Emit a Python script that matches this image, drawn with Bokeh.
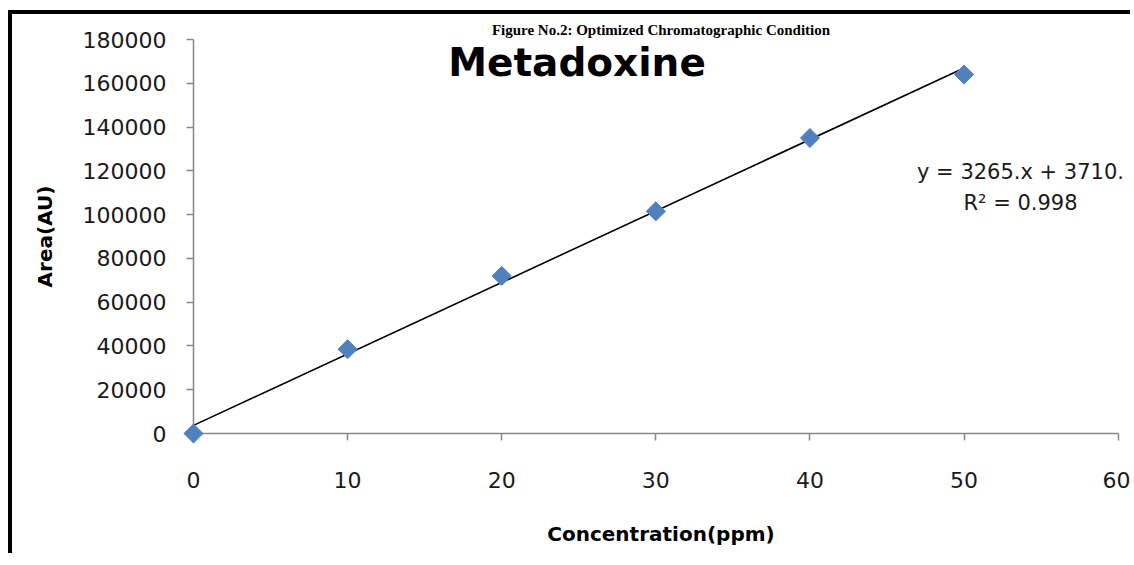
import math
from bokeh.plotting import figure
from bokeh.models import Range1d, FixedTicker, BasicTickFormatter, Label, Title
from bokeh.embed import file_html
from bokeh.resources import INLINE

# ---- data ----
concentration = [0, 10, 20, 30, 40, 50]
area = [0, 38500, 72000, 101500, 135000, 164000]
x_ticks = [0, 10, 20, 30, 40, 50, 60]
y_ticks = [0, 20000, 40000, 60000, 80000, 100000, 120000, 140000, 160000, 180000]
trend_slope = 3265.0
trend_intercept = 3710.0
chart_title = "Metadoxine"
figure_caption = "Figure No.2: Optimized Chromatographic Condition"
eq_line1 = "y = 3265.x + 3710."
eq_line2 = "R\u00b2 = 0.998"
x_label = "Concentration(ppm)"
y_label = "Area(AU)"

OX, OY = 12, 14          # page offset of the canvas (css margin + border)
W, H = 1122, 543
FL, FR, FT, FB = 193 - OX, 1128 - OX, 39 - OY, 433 - OY  # frame edges in canvas px
X_END = 60.67            # frame extends a little past the last tick (axis bounded at 60)

p = figure(width=W, height=H,
           x_range=Range1d(x_ticks[0], X_END), y_range=Range1d(y_ticks[0], y_ticks[-1]),
           output_backend="svg", toolbar_location=None,
           min_border_left=FL, min_border_right=W - FR,
           min_border_top=FT, min_border_bottom=H - FB)
p.styles = {"border-top": "4px solid black", "border-left": "4px solid black",
            "margin-top": "10px", "margin-left": "8px"}
p.outline_line_color = None
p.grid.visible = False
p.background_fill_color = "white"
p.border_fill_color = "white"

cap = Title(text=figure_caption, align="center", vertical_align="top",
            text_font="Liberation Serif", text_font_style="bold",
            text_font_size="15px", text_color="#000000", standoff=0)
p.add_layout(cap, "above")

axis_color = "#878787"
for ax in (p.xaxis[0], p.yaxis[0]):
    ax.axis_line_color = axis_color
    ax.axis_line_width = 1.5
    ax.major_tick_line_color = axis_color
    ax.major_tick_line_width = 1.5
    ax.major_tick_out = 7
    ax.major_tick_in = 0
    ax.minor_tick_line_color = None
    ax.major_label_text_font = "DejaVu Sans"
    ax.major_label_text_font_size = "22px"
    ax.major_label_text_color = "#1a1a1a"
    ax.axis_label_text_font = "DejaVu Sans"
    ax.axis_label_text_font_size = "20px"
    ax.axis_label_text_font_style = "bold"
    ax.axis_label_text_color = "#000000"
    ax.formatter = BasicTickFormatter(use_scientific=False)

p.xaxis.ticker = FixedTicker(ticks=x_ticks)
p.yaxis.ticker = FixedTicker(ticks=y_ticks)
p.xaxis.bounds = (x_ticks[0], x_ticks[-1])
p.xaxis.axis_label = x_label
p.yaxis.axis_label = y_label
p.xaxis.major_label_standoff = 31
p.xaxis.axis_label_standoff = 31
p.yaxis.major_label_standoff = 20
p.yaxis.axis_label_standoff = 23

# trendline from the displayed equation, over the data range
tx = [concentration[0], concentration[-1]]
ty = [trend_slope * v + trend_intercept for v in tx]
p.line(tx, ty, line_color="#000000", line_width=1.6)

r = p.scatter(concentration, area, marker="square", size=13.5, angle=math.pi / 4,
              fill_color="#4F81BD", line_color="#4F81BD")
r.level = "overlay"

def sx(page_x):
    return page_x - OX - FL

def sy(page_y):
    return FB - (page_y - OY)

p.add_layout(Label(x=sx(576.5), y=sy(62), x_units="screen", y_units="screen",
                   text=chart_title, text_align="center", text_baseline="alphabetic",
                   text_font="DejaVu Sans", text_font_style="bold",
                   text_font_size="39px", text_color="#000000"))
p.add_layout(Label(x=sx(1020), y=sy(171.5), x_units="screen", y_units="screen",
                   text=eq_line1, text_align="center", text_baseline="alphabetic",
                   text_font="DejaVu Sans", text_font_size="21px", text_color="#1a1a1a"))
p.add_layout(Label(x=sx(1020), y=sy(202.5), x_units="screen", y_units="screen",
                   text=eq_line2, text_align="center", text_baseline="alphabetic",
                   text_font="DejaVu Sans", text_font_size="21px", text_color="#1a1a1a"))

open("out.html", "w").write(file_html(p, INLINE))
